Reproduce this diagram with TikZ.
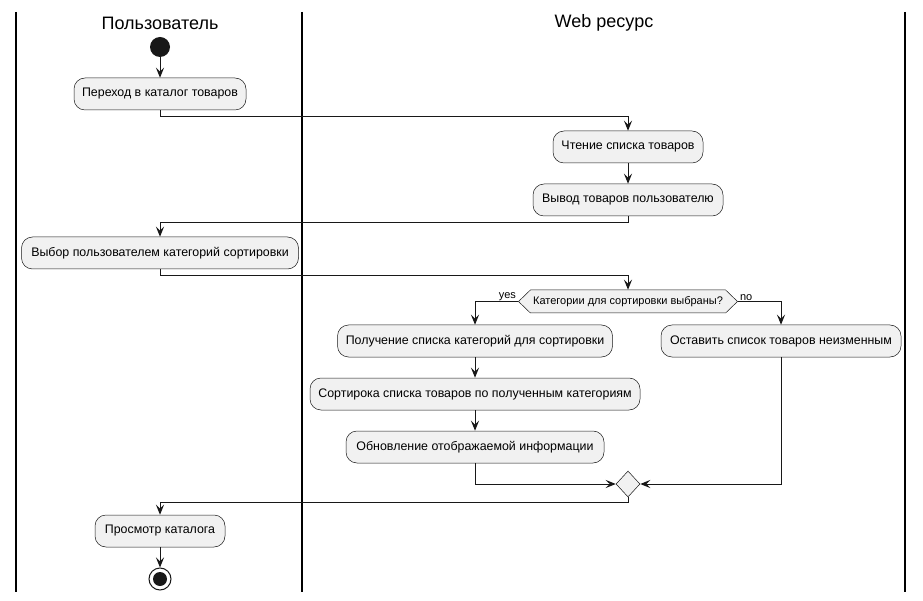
\documentclass[tikz,border=0pt]{standalone}
\usepackage{fontspec}
\setmainfont{Liberation Sans}
\usetikzlibrary{arrows.meta,shapes.geometric,shapes.symbols}
\definecolor{boxfill}{HTML}{F1F1F1}
\definecolor{ink}{HTML}{181818}
\tikzset{
  act/.style={draw=ink, line width=0.5pt, fill=boxfill, rounded corners=11pt,
    minimum height=32pt, inner sep=0pt, font=\fontsize{12.4}{14}\selectfont},
  conn/.style={draw=ink, line width=1pt, -{Stealth[length=10pt,width=8pt,inset=4pt]}},
  plain/.style={draw=ink, line width=1pt},
  lane/.style={draw=black, line width=1.5pt},
  title/.style={font=\fontsize{18}{20}\selectfont},
  lbl/.style={font=\fontsize{11}{12}\selectfont, inner sep=1pt}
}
\begin{document}
\begin{tikzpicture}[x=1pt,y=-1pt]
\useasboundingbox (0,0) rectangle (923,601);
\fill[white] (0,0) rectangle (923,601);
% lanes
\draw[lane] (16,12) -- (16,592);
\draw[lane] (302,12) -- (302,592);
\draw[lane] (905,12) -- (905,592);
\node[title] (t1) at (160,23) {Пользователь};
\node[title] (t2) at (604,23) {Web ресурс};
% start
\node[circle, fill=ink, minimum size=20pt, inner sep=0pt] (start) at (160,47) {};
\node[act, minimum width=172pt] (a1) at (160,94) {Переход в каталог товаров};
\node[act, minimum width=150pt] (a2) at (628,147) {Чтение списка товаров};
\node[act, minimum width=190pt] (a3) at (628,200) {Вывод товаров пользователю};
\node[act, minimum width=277pt] (a4) at (160,253) {Выбор пользователем категорий сортировки};
\node[draw=ink, line width=0.5pt, fill=boxfill, shape=signal, signal to=west and east,
  signal pointer angle=88, minimum width=219pt, minimum height=23pt, inner sep=0pt,
  font=\fontsize{11}{12}\selectfont] (dec) at (628,301.5) {Категории для сортировки выбраны?};
\node[act, minimum width=275pt] (a5) at (475,341) {Получение списка категорий для сортировки};
\node[act, minimum width=240pt] (a6) at (781,341) {Оставить список товаров неизменным};
\node[act, minimum width=330pt] (a7) at (475,394) {Сортирока списка товаров по полученным категориям};
\node[act, minimum width=258pt] (a8) at (475,447) {Обновление отображаемой информации};
\node[diamond, draw=ink, line width=0.5pt, fill=boxfill, minimum width=24pt, minimum height=26pt, inner sep=0pt] (m) at (628,484) {};
\node[act, minimum width=130pt] (a9) at (160,531) {Просмотр каталога};
\node[circle, draw=ink, line width=1pt, fill=white, minimum size=22pt, inner sep=0pt] (end) at (160,579) {};
\fill[ink] (end.center) circle (7pt);
% connectors
\draw[conn] (start) -- (a1);
\draw[conn] (a1.south) -- ++(0,6) -| (a2.north);
\draw[conn] (a2) -- (a3);
\draw[conn] (a3.south) -- ++(0,6) -| (a4.north);
\draw[conn] (a4.south) -- ++(0,6) -| (dec.north);
\draw[conn] (dec.west) -| (a5.north);
\draw[conn] (dec.east) -| (a6.north);
\node[lbl, anchor=south east] (yes) at ([xshift=-1pt]dec.west) {yes};
\node[lbl, anchor=south west] (no) at ([xshift=1pt]dec.east) {no};
\draw[conn] (a5) -- (a7);
\draw[conn] (a7) -- (a8);
\draw[conn] (a8.south) |- (m.west);
\draw[conn] (a6.south) |- (m.east);
\draw[conn] (m.south) -- ++(0,5) -| (a9.north);
\draw[conn] (a9) -- (end);
\end{tikzpicture}
\end{document}
